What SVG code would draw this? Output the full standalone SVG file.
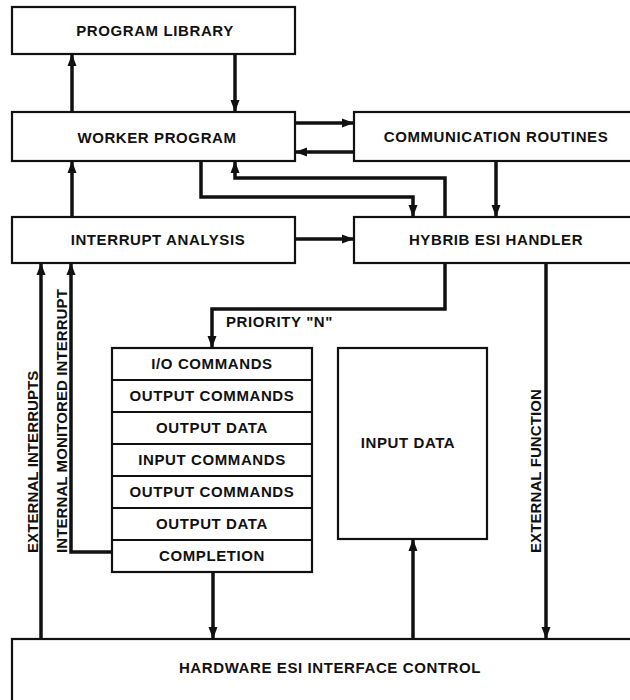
<svg xmlns="http://www.w3.org/2000/svg" width="630" height="700" viewBox="0 0 630 700">
<defs>
<style>
.box{fill:#fff;stroke:#111;stroke-width:2.2}
.t{font-family:"Liberation Sans",Arial,sans-serif;font-weight:bold;font-size:15px;fill:#111;text-anchor:middle;letter-spacing:0.6px}
.v{text-anchor:start;letter-spacing:0.1px}
.c{fill:none;stroke:#111;stroke-width:3.5}
</style>
<marker id="ah" markerUnits="userSpaceOnUse" markerWidth="12" markerHeight="12" viewBox="0 0 12 12" refX="11" refY="6" orient="auto">
<path d="M0,1.5 L12,6 L0,10.5 Z" fill="#111"/>
</marker>
</defs>
<rect width="630" height="700" fill="#fff"/>

<g id="program-library"><rect class="box" x="12" y="7" width="283" height="47"/><text class="t" x="155" y="36">PROGRAM LIBRARY</text></g>
<g id="worker-program"><rect class="box" x="12" y="112" width="283" height="49"/><text class="t" x="157" y="143">WORKER PROGRAM</text></g>
<g id="communication-routines"><rect class="box" x="354" y="112" width="290" height="49"/><text class="t" x="496" y="142">COMMUNICATION ROUTINES</text></g>
<g id="interrupt-analysis"><rect class="box" x="12" y="217" width="283" height="46"/><text class="t" x="158" y="245">INTERRUPT ANALYSIS</text></g>
<g id="hybrib-esi-handler"><rect class="box" x="354" y="217" width="290" height="46"/><text class="t" x="496" y="245">HYBRIB ESI HANDLER</text></g>
<g id="command-stack">
<rect class="box" x="112" y="348" width="200" height="224"/>
<path d="M112,380H312M112,412H312M112,444H312M112,476H312M112,508H312M112,540H312" stroke="#111" stroke-width="2"/>
<text class="t" x="212" y="369">I/O COMMANDS</text>
<text class="t" x="212" y="401">OUTPUT COMMANDS</text>
<text class="t" x="212" y="433">OUTPUT DATA</text>
<text class="t" x="212" y="465">INPUT COMMANDS</text>
<text class="t" x="212" y="497">OUTPUT COMMANDS</text>
<text class="t" x="212" y="529">OUTPUT DATA</text>
<text class="t" x="212" y="561">COMPLETION</text>
</g>
<g id="input-data"><rect class="box" x="338" y="348" width="149" height="191"/><text class="t" x="408" y="448">INPUT DATA</text></g>
<g id="hardware-esi-interface-control"><rect class="box" x="12" y="639" width="640" height="80"/><text class="t" x="330" y="673">HARDWARE ESI INTERFACE CONTROL</text></g>

<g id="connectors">
<path class="c" d="M72,112V55" marker-end="url(#ah)"/>
<path class="c" d="M235,54V111" marker-end="url(#ah)"/>
<path class="c" d="M295,123H353" marker-end="url(#ah)"/>
<path class="c" d="M354,152H296" marker-end="url(#ah)"/>
<path class="c" d="M201,161V197H413V216" marker-end="url(#ah)"/>
<path class="c" d="M445,217V178H235V162" marker-end="url(#ah)"/>
<path class="c" d="M496,161V216" marker-end="url(#ah)"/>
<path class="c" d="M295,239H353" marker-end="url(#ah)"/>
<path class="c" d="M72,217V162" marker-end="url(#ah)"/>
<path class="c" d="M445,263V309H212V347" marker-end="url(#ah)"/>
<path class="c" d="M41,639V264" marker-end="url(#ah)"/>
<path class="c" d="M112,552H71V264" marker-end="url(#ah)"/>
<path class="c" d="M213,572V638" marker-end="url(#ah)"/>
<path class="c" d="M413,639V540" marker-end="url(#ah)"/>
<path class="c" d="M546,263V638" marker-end="url(#ah)"/>
<text class="t" x="226" y="327" style="text-anchor:start">PRIORITY "N"</text>
<text class="t v" transform="translate(38,553) rotate(-90)">EXTERNAL INTERRUPTS</text>
<text class="t v" transform="translate(67,553) rotate(-90)">INTERNAL MONITORED INTERRUPT</text>
<text class="t v" transform="translate(541,553) rotate(-90)">EXTERNAL FUNCTION</text>
</g>
</svg>
